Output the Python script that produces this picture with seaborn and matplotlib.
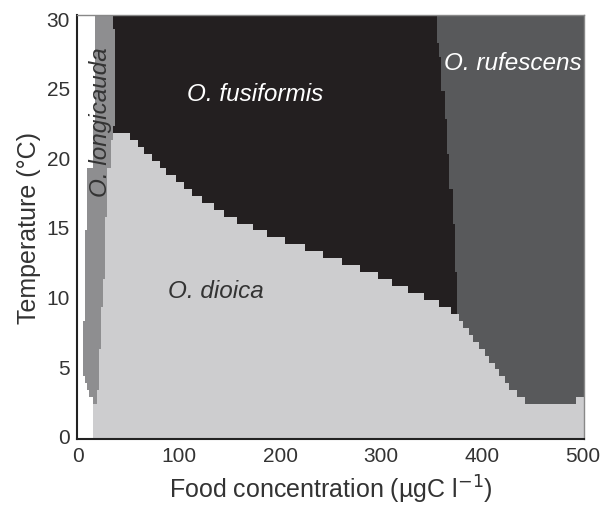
import numpy as np
import pandas as pd
import seaborn as sns
import matplotlib
matplotlib.use("Agg")
import matplotlib.pyplot as plt
from matplotlib.colors import ListedColormap, BoundaryNorm

# ---------------- data ----------------
# temperature rows (cell centres, °C), 0 ... 30 in 0.5 steps
temperature = np.arange(0, 30.5, 0.5)
# food concentration columns (cell centres, µgC/l)
food = np.arange(0, 501, 2)

species = ["none", "O. longicauda", "O. dioica", "O. fusiformis", "O. rufescens"]

# per temperature row: x where the empty (white) zone ends
white_end = ([16] * 5 + [14.5, 12, 9, 7] + [5] * 8 + [7] * 13 + [9.5] * 9
             + [15] * 6 + [17.5] * 16)
# per row: x where O. longicauda ends
longi_end = ([16] * 5 + [19, 20, 20.5] + [21.8] * 5 + [23.4] * 6 + [25] * 4
             + [27] * 9 + [29.5] * 7 + [33] * 4 + [35] * 2 + [36.5] * 14 + [35] * 2)
# per row: x where O. dioica ends
dioica_end = ([501] * 5 +
              [444, 436, 428, 423, 418, 413, 408, 403, 397, 392, 387, 382, 378,
               370, 358, 344, 327, 312, 297, 279, 261, 243, 225, 205, 188, 173,
               158, 145, 136, 124, 114, 106, 98, 88, 81, 73, 66, 59, 52]
              + [0] * 17)
# per row: x where O. rufescens starts (O. fusiformis lies between)
rufes_start = ([501] * 5 +
               [444, 436, 428, 423, 418, 413, 408, 403, 397, 392, 387, 382, 378]
               + [375] * 6 + [373] * 7 + [371.5] * 5 + [368] * 5 + [365] * 5
               + [363.5] * 4 + [360] * 5 + [357.5] * 2 + [355.5] * 4)
# per row: x where O. rufescens ends (O. dioica again beyond)
rufes_end = [501] * 5 + [494] + [501] * 55

# ---------------- build category grid ----------------
codes = np.zeros((len(temperature), len(food)))
for i in range(len(temperature)):
    for j, x in enumerate(food):
        if x < white_end[i]:
            c = 0
        elif x < longi_end[i]:
            c = 1
        elif x < dioica_end[i]:
            c = 2
        elif x < rufes_start[i]:
            c = 3
        elif x < rufes_end[i]:
            c = 4
        else:
            c = 2
        codes[i, j] = c
grid = pd.DataFrame(codes, index=temperature, columns=food)

# ---------------- plot ----------------
sns.set_theme(style="ticks")
plt.rcParams["font.family"] = ["Liberation Sans", "DejaVu Sans"]

fig = plt.figure(figsize=(6.0, 5.1), dpi=100)
ax = fig.add_axes([77 / 600, 70 / 510, 507 / 600, 424 / 510])

colors = ["#ffffff", "#8e8e90", "#cdcdcf", "#231f20", "#58595b"]
cmap = ListedColormap(colors)
norm = BoundaryNorm([-0.5, 0.5, 1.5, 2.5, 3.5, 4.5], cmap.N)

x_edges = np.append(grid.columns.values - 1, grid.columns.values[-1] + 1)
y_edges = np.append(grid.index.values - 0.25, grid.index.values[-1] + 0.25)
ax.pcolormesh(x_edges, y_edges, grid.values, cmap=cmap, norm=norm,
              shading="flat", antialiased=False, edgecolors="none")

ax.set_xlim(-1, 501)
ax.set_ylim(-0.25, 30.25)
ax.set_xticks([0, 100, 200, 300, 400, 500])
ax.set_yticks([0, 5, 10, 15, 20, 25, 30])
ax.tick_params(direction="in", length=4, width=0.8, colors="#333333",
               labelsize=15, top=True, right=True, pad=5)
for s in ax.spines.values():
    s.set_visible(True)
    s.set_linewidth(1.0)
    s.set_color("#888888")
ax.spines["left"].set_color("#222222")
ax.spines["bottom"].set_color("#222222")
ax.spines["left"].set_linewidth(1.5)
ax.spines["bottom"].set_linewidth(1.5)

ax.set_xlabel("Food concentration (µgC l$^{-1}$)", fontsize=18, color="#333333",
              labelpad=6)
ax.set_ylabel("Temperature (°C)", fontsize=18, color="#333333", labelpad=4)

lab = dict(fontsize=17.5, style="italic")
ax.text(175, 24.6, "O. fusiformis", color="white", ha="center", va="center", **lab)
ax.text(499, 26.8, "O. rufescens", color="white", ha="right", va="center", **lab)
ax.text(137, 10.45, "O. dioica", color="#333333", ha="center", va="center", **lab)
ax.text(21.8, 22.6, "O. longicauda", color="#333333", ha="center", va="center",
        rotation=90, **lab)

fig.savefig("out.png", dpi=100)
